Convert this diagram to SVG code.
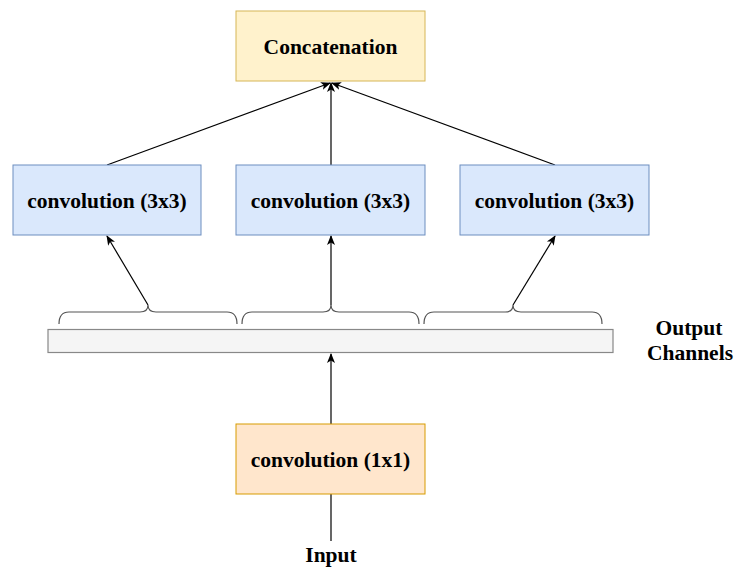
<svg xmlns="http://www.w3.org/2000/svg" width="741" height="575" viewBox="0 0 741 575">
<defs>
<marker id="arr" viewBox="0 0 10 10" refX="9" refY="5" markerWidth="10" markerHeight="10" markerUnits="userSpaceOnUse" orient="auto">
<path d="M0,1 L10,5 L0,9 L2.5,5 Z" fill="#000"/>
</marker>
<style>
text{font-family:"Liberation Serif","Times New Roman",serif;font-weight:bold;font-size:21.5px;fill:#000;text-anchor:middle}
.con{fill:none;stroke:#000;stroke-width:1.2;marker-end:url(#arr)}
.plain{fill:none;stroke:#000;stroke-width:1.2}
.brace{fill:none;stroke:#555;stroke-width:1.2}
.blue{fill:#dae8fc;stroke:#6c8ebf;stroke-width:1}
</style>
</defs>
<rect width="741" height="575" fill="#fff"/>
<g id="connectors">
<line class="con" x1="107" y1="165" x2="330" y2="83"/>
<line class="con" x1="331" y1="165" x2="331" y2="83"/>
<line class="con" x1="555" y1="165" x2="332" y2="83"/>
<line class="con" x1="148" y1="305" x2="107" y2="236"/>
<line class="con" x1="331" y1="305" x2="331" y2="236"/>
<line class="con" x1="513" y1="305" x2="555" y2="236"/>
<line class="con" x1="331" y1="424" x2="331" y2="354"/>
<line class="plain" x1="331" y1="494" x2="331" y2="541"/>
</g>
<g id="concat">
<rect x="236" y="11" width="189" height="70" fill="#fff2cc" stroke="#d6b656"/>
<text x="330.5" y="54">Concatenation</text>
</g>
<g id="conv3a">
<rect class="blue" x="13" y="165" width="188" height="70"/>
<text x="107" y="208">convolution (3x3)</text>
</g>
<g id="conv3b">
<rect class="blue" x="236" y="165" width="189" height="70"/>
<text x="330.5" y="208">convolution (3x3)</text>
</g>
<g id="conv3c">
<rect class="blue" x="460" y="165" width="189" height="70"/>
<text x="554.5" y="208">convolution (3x3)</text>
</g>
<g id="braces">
<path class="brace" d="M59,324 Q59,312 69,312 L140,312 Q148,312 148,305 Q148,312 156,312 L227,312 Q237,312 237,324"/>
<path class="brace" d="M242,324 Q242,312 252,312 L323,312 Q331,312 331,305 Q331,312 339,312 L409,312 Q419,312 419,324"/>
<path class="brace" d="M424,324 Q424,312 434,312 L505,312 Q513,312 513,305 Q513,312 521,312 L592,312 Q602,312 602,324"/>
</g>
<g id="bar">
<rect x="48" y="329.5" width="565" height="23" fill="#f5f5f5" stroke="#888" stroke-width="1.2"/>
</g>
<g id="outlabel">
<text x="689" y="335">Output</text>
<text x="690" y="360">Channels</text>
</g>
<g id="conv1">
<rect x="236" y="424" width="189" height="70" fill="#ffe6cc" stroke="#d79b00"/>
<text x="330.5" y="467">convolution (1x1)</text>
</g>
<g id="input">
<text x="331" y="562">Input</text>
</g>
</svg>
